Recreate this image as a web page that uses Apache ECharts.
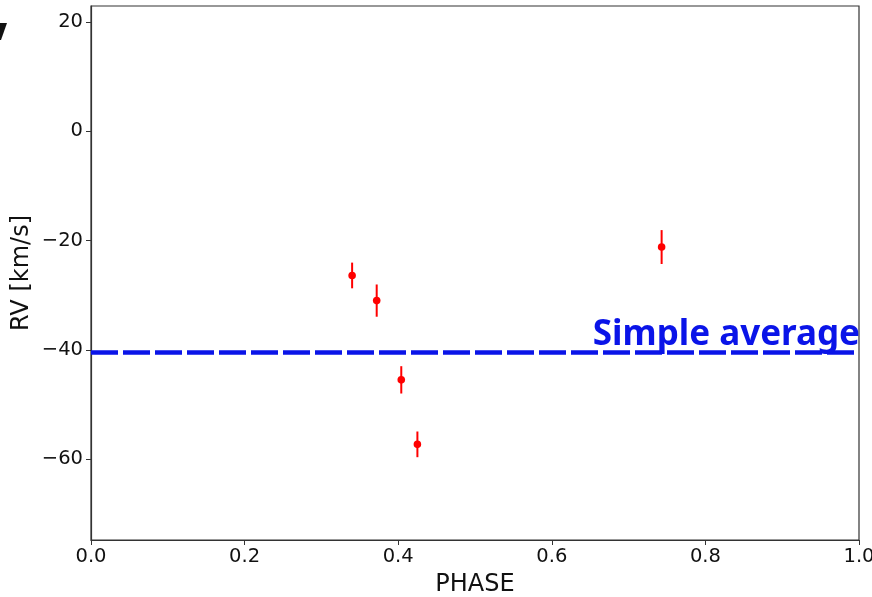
<!DOCTYPE html>
<html>
<head>
<meta charset="utf-8">
<script src="https://cdn.jsdelivr.net/npm/echarts@6/dist/echarts.min.js"></script>
<style>
  html, body { margin: 0; padding: 0; background: #fff; }
  #chart { width: 872px; height: 597px; }
</style>
</head>
<body>
<div id="chart"></div>
<script>
// Radial-velocity measurements against orbital phase
const phase = [0.340, 0.372, 0.404, 0.425, 0.743];
const rv = [-26.4, -31.0, -45.5, -57.3, -21.2];
const rvErr = [2.35, 2.95, 2.5, 2.35, 3.1];
const simpleAverage = -40.5;
const yTicks = [-60, -40, -20, 0, 20];

const points = phase.map((p, i) => [p, rv[i], rvErr[i]]);
const fmtMinus = v => (v < 0 ? '\u2212' + Math.abs(v) : String(v));

const chart = echarts.init(document.getElementById('chart'), null, { renderer: 'canvas' });

chart.setOption({
  animation: false,
  backgroundColor: '#fff',
  grid: {
    left: 91, top: 6, right: 13, bottom: 57,
    outerBoundsMode: 'none', containLabel: false,
    show: true, borderColor: '#333', borderWidth: 1.2
  },
  xAxis: {
    type: 'value', min: 0, max: 1, interval: 0.2,
    name: 'PHASE', nameLocation: 'middle', nameGap: 33, nameMoveOverlap: false,
    nameTextStyle: { fontFamily: 'DejaVu Sans', fontSize: 24, color: '#111' },
    axisLine: { show: true, onZero: false, lineStyle: { color: '#333', width: 1.2 } },
    axisTick: { show: true, length: 5, lineStyle: { color: '#333' } },
    axisLabel: {
      fontFamily: 'DejaVu Sans', fontSize: 19.5, color: '#111', margin: 7,
      formatter: v => v.toFixed(1)
    },
    splitLine: { show: false }
  },
  yAxis: {
    type: 'value', min: -74.8, max: 22.9,
    name: 'RV [km/s]', nameLocation: 'middle', nameGap: 57, nameMoveOverlap: false,
    nameTextStyle: { fontFamily: 'DejaVu Sans', fontSize: 24, color: '#111' },
    axisLine: { show: true, onZero: false, lineStyle: { color: '#333', width: 1.2 } },
    axisTick: { show: true, length: 5, customValues: yTicks, lineStyle: { color: '#333' } },
    axisLabel: {
      fontFamily: 'DejaVu Sans', fontSize: 19.5, color: '#111', margin: 8,
      customValues: yTicks, formatter: fmtMinus
    },
    splitLine: { show: false }
  },
  graphic: [
    {
      type: 'polygon', left: 0, top: 23,
      shape: { points: [[0, 0], [7, 0], [1, 17], [0, 17]] },
      style: { fill: '#111' }
    }
  ],
  series: [
    {
      // error bars with filled markers
      type: 'custom',
      data: points,
      renderItem: (params, api) => {
        const x = api.value(0), y = api.value(1), e = api.value(2);
        const c = api.coord([x, y]);
        const lo = api.coord([x, y - e]);
        const hi = api.coord([x, y + e]);
        return {
          type: 'group',
          children: [
            { type: 'line', shape: { x1: lo[0], y1: lo[1], x2: hi[0], y2: hi[1] },
              style: { stroke: '#ff0000', lineWidth: 2 } },
            { type: 'circle', shape: { cx: c[0], cy: c[1], r: 3.8 },
              style: { fill: '#ff0000' } }
          ]
        };
      },
      z: 3
    },
    {
      // horizontal reference line at the simple average
      type: 'line',
      data: [],
      markLine: {
        silent: true, symbol: 'none',
        lineStyle: { color: '#0a14e8', width: 4.5, type: [27, 5] },
        label: {
          show: true, position: 'insideEndTop', distance: [-1, 0],
          formatter: 'Simple average',
          fontFamily: 'Noto Sans', fontWeight: 'bold', fontSize: 35, color: '#0a14e8'
        },
        data: [{ yAxis: simpleAverage }]
      },
      z: 2
    }
  ]
});
</script>
</body>
</html>
